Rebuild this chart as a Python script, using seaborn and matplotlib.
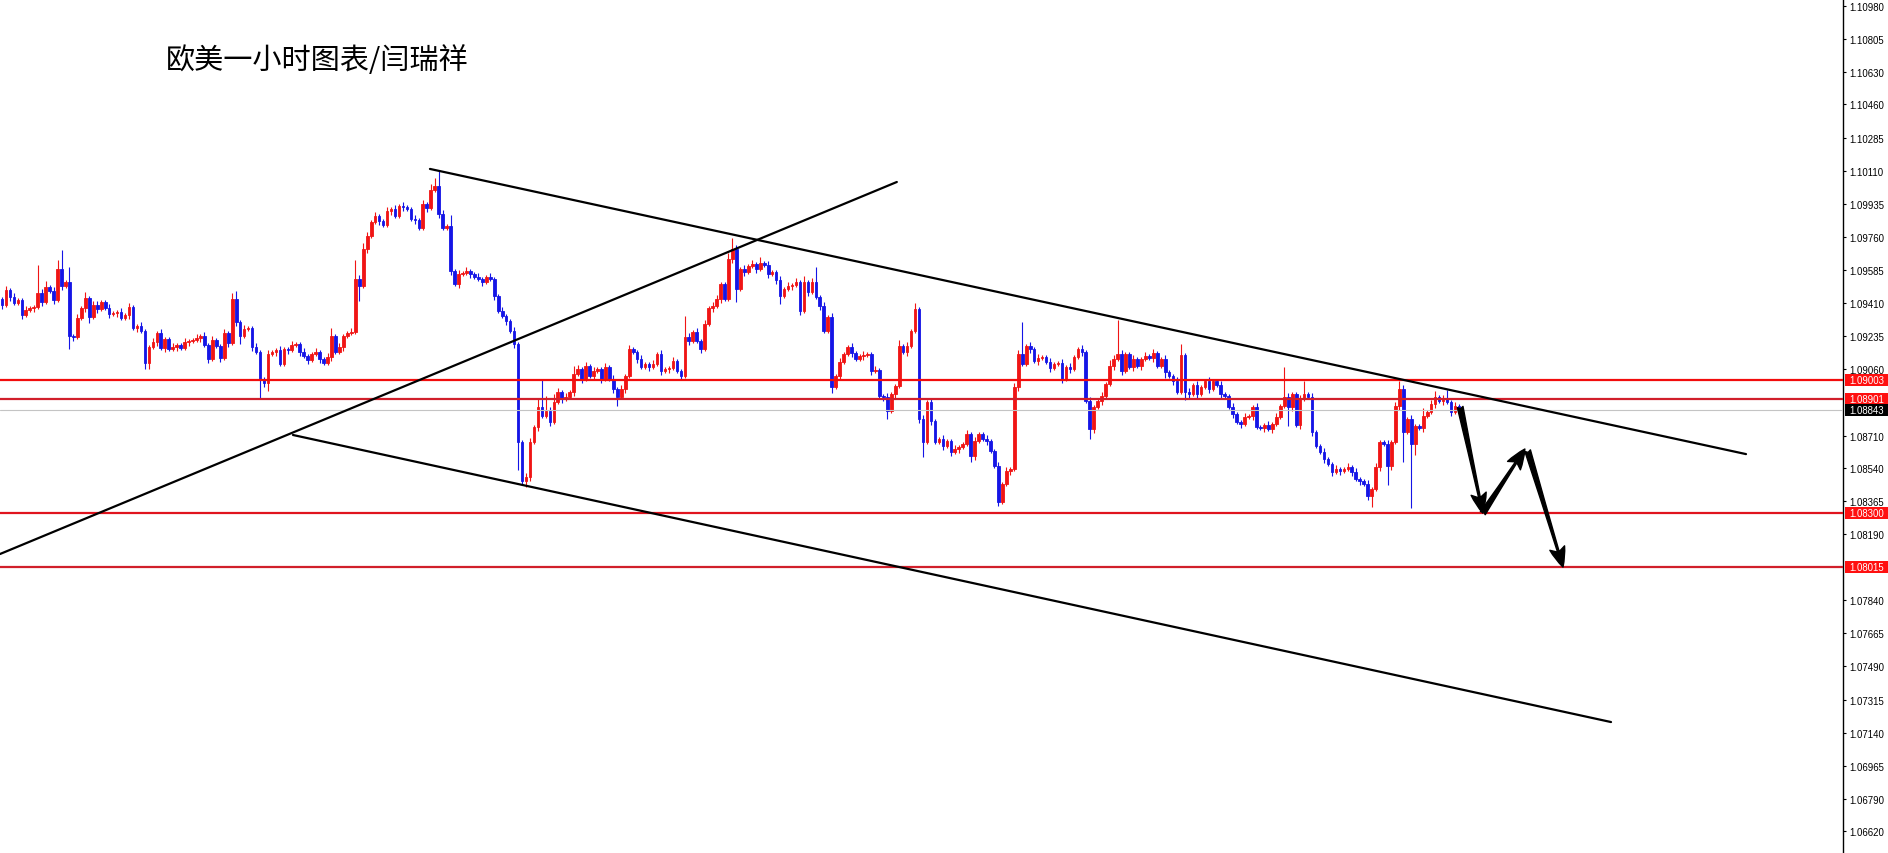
import numpy as np
import pandas as pd
import matplotlib
matplotlib.use("Agg")
import matplotlib.pyplot as plt
from matplotlib.patches import Rectangle
import seaborn as sns

# ---------------- data ----------------
title_text = "欧美一小时图表/闫瑞祥"

first_open = 1.09432
closes = [
    1.09400, 1.09479, 1.09442, 1.09410, 1.09426, 1.09347, 1.09373, 1.09384, 1.09389, 1.09463,
    1.09416, 1.09495, 1.09474, 1.09426, 1.09590, 1.09500, 1.09521, 1.09236, 1.09231, 1.09331,
    1.09384, 1.09437, 1.09336, 1.09400, 1.09379, 1.09416, 1.09384, 1.09352, 1.09358, 1.09363,
    1.09331, 1.09347, 1.09389, 1.09278, 1.09289, 1.09262, 1.09093, 1.09178, 1.09204, 1.09252,
    1.09173, 1.09220, 1.09167, 1.09178, 1.09188, 1.09173, 1.09204, 1.09210, 1.09215, 1.09225,
    1.09236, 1.09188, 1.09114, 1.09215, 1.09183, 1.09120, 1.09252, 1.09199, 1.09432, 1.09310,
    1.09236, 1.09273, 1.09278, 1.09178, 1.09151, 1.09009, 1.08988, 1.09141, 1.09151, 1.09162,
    1.09088, 1.09167, 1.09162, 1.09188, 1.09194, 1.09151, 1.09130, 1.09109, 1.09141, 1.09151,
    1.09114, 1.09093, 1.09125, 1.09236, 1.09151, 1.09178, 1.09236, 1.09252, 1.09257, 1.09537,
    1.09500, 1.09696, 1.09765, 1.09838, 1.09870, 1.09844, 1.09823, 1.09897, 1.09907, 1.09870,
    1.09923, 1.09918, 1.09907, 1.09854, 1.09849, 1.09807, 1.09934, 1.09912, 1.10008, 1.10029,
    1.09881, 1.09807, 1.09817, 1.09580, 1.09511, 1.09564, 1.09569, 1.09580, 1.09564, 1.09548,
    1.09537, 1.09521, 1.09548, 1.09537, 1.09447, 1.09368, 1.09342, 1.09315, 1.09262, 1.09194,
    1.08676, 1.08470, 1.08491, 1.08676, 1.08755, 1.08861, 1.08813, 1.08840, 1.08781, 1.08887,
    1.08940, 1.08903, 1.08914, 1.08940, 1.09035, 1.09062, 1.09009, 1.09077, 1.09025, 1.09051,
    1.09062, 1.09009, 1.09072, 1.09009, 1.08956, 1.08914, 1.08956, 1.09025, 1.09167, 1.09151,
    1.09114, 1.09072, 1.09088, 1.09072, 1.09088, 1.09141, 1.09051, 1.09062, 1.09067, 1.09104,
    1.09051, 1.09025, 1.09231, 1.09210, 1.09257, 1.09210, 1.09167, 1.09299, 1.09384, 1.09395,
    1.09432, 1.09511, 1.09432, 1.09643, 1.09696, 1.09484, 1.09590, 1.09574, 1.09606, 1.09617,
    1.09590, 1.09622, 1.09611, 1.09564, 1.09574, 1.09532, 1.09447, 1.09484, 1.09500, 1.09506,
    1.09521, 1.09368, 1.09521, 1.09469, 1.09521, 1.09442, 1.09395, 1.09262, 1.09336, 1.08966,
    1.09025, 1.09099, 1.09141, 1.09178, 1.09146, 1.09114, 1.09130, 1.09136, 1.09141, 1.09051,
    1.09056, 1.08919, 1.08914, 1.08840, 1.08929, 1.08972, 1.09183, 1.09151, 1.09183, 1.09262,
    1.09379, 1.08797, 1.08676, 1.08887, 1.08787, 1.08676, 1.08692, 1.08655, 1.08681, 1.08623,
    1.08639, 1.08649, 1.08665, 1.08718, 1.08602, 1.08681, 1.08718, 1.08692, 1.08681, 1.08628,
    1.08549, 1.08359, 1.08454, 1.08522, 1.08533, 1.08966, 1.09141, 1.09088, 1.09183, 1.09167,
    1.09104, 1.09120, 1.09125, 1.09099, 1.09067, 1.09088, 1.09093, 1.09009, 1.09072, 1.09062,
    1.09125, 1.09167, 1.09151, 1.08892, 1.08744, 1.08861, 1.08892, 1.08919, 1.08982, 1.09077,
    1.09114, 1.09141, 1.09051, 1.09141, 1.09072, 1.09114, 1.09077, 1.09114, 1.09130, 1.09120,
    1.09146, 1.09077, 1.09114, 1.09046, 1.09025, 1.08998, 1.08940, 1.09136, 1.08940, 1.08929,
    1.08977, 1.08929, 1.08966, 1.08998, 1.08956, 1.08998, 1.08977, 1.08929, 1.08919, 1.08861,
    1.08824, 1.08781, 1.08771, 1.08808, 1.08813, 1.08861, 1.08755, 1.08750, 1.08766, 1.08744,
    1.08771, 1.08808, 1.08866, 1.08914, 1.08861, 1.08929, 1.08766, 1.08903, 1.08929, 1.08914,
    1.08729, 1.08655, 1.08623, 1.08586, 1.08560, 1.08517, 1.08533, 1.08522, 1.08533, 1.08544,
    1.08517, 1.08480, 1.08470, 1.08454, 1.08390, 1.08427, 1.08544, 1.08676, 1.08665, 1.08549,
    1.08676, 1.08866, 1.08956, 1.08729, 1.08797, 1.08665, 1.08760, 1.08750, 1.08813, 1.08834,
    1.08877, 1.08914, 1.08892, 1.08903, 1.08887, 1.08834, 1.08866, 1.08843,
]

upper_wick_pips = [
    1, 2, 1, 2, 1, 1, 2, 1, 1, 15, 2, 3, 1, 2, 5, 10, 1, 8, 1, 2,
    1, 3, 1, 2, 2, 1, 1, 2, 1, 1, 2, 1, 2, 1, 1, 2, 1, 1, 2, 1,
    2, 1, 1, 2, 1, 1, 2, 1, 1, 2, 1, 2, 1, 2, 1, 1, 2, 1, 3, 4,
    1, 2, 1, 1, 2, 1, 1, 2, 1, 1, 2, 1, 1, 2, 1, 1, 2, 1, 1, 2,
    1, 1, 2, 4, 1, 2, 1, 1, 2, 10, 2, 3, 2, 1, 2, 1, 1, 2, 1, 2,
    1, 2, 1, 1, 2, 1, 2, 1, 3, 4, 8, 2, 1, 6, 1, 2, 1, 2, 1, 1,
    2, 1, 1, 2, 1, 1, 2, 1, 1, 2, 1, 1, 2, 2, 1, 5, 14, 8, 2, 4,
    2, 1, 2, 1, 4, 2, 1, 2, 1, 2, 1, 1, 2, 1, 2, 1, 2, 1, 2, 1,
    1, 2, 1, 1, 2, 1, 2, 1, 1, 2, 1, 1, 11, 2, 1, 2, 1, 2, 1, 2,
    2, 1, 1, 3, 6, 2, 1, 2, 1, 2, 1, 3, 1, 2, 1, 1, 2, 1, 2, 1,
    2, 1, 3, 1, 2, 8, 1, 2, 1, 2, 1, 2, 1, 1, 2, 1, 1, 2, 1, 1,
    2, 1, 1, 2, 1, 1, 3, 1, 2, 1, 3, 1, 2, 1, 2, 1, 1, 2, 1, 1,
    2, 1, 1, 2, 1, 2, 1, 1, 2, 1, 1, 2, 1, 2, 1, 2, 2, 17, 1, 2,
    1, 2, 1, 1, 2, 1, 1, 2, 1, 2, 1, 1, 2, 1, 2, 1, 1, 2, 1, 3,
    2, 18, 2, 1, 1, 2, 1, 1, 2, 1, 2, 1, 1, 2, 1, 1, 2, 6, 1, 2,
    1, 2, 1, 1, 2, 1, 1, 2, 1, 1, 2, 1, 1, 2, 1, 1, 2, 1, 1, 2,
    1, 2, 1, 16, 2, 1, 1, 2, 7, 1, 2, 1, 1, 2, 1, 1, 2, 1, 1, 2,
    1, 2, 1, 1, 2, 1, 2, 1, 1, 2, 1, 2, 4, 2, 1, 2, 1, 1, 4, 1,
    2, 3, 1, 2, 5, 1, 2, 1,
]

lower_wick_pips = [
    2, 1, 2, 1, 1, 2, 1, 1, 2, 1, 2, 1, 1, 2, 1, 2, 1, 7, 2, 1,
    1, 2, 3, 1, 2, 1, 1, 2, 1, 2, 1, 1, 2, 1, 2, 1, 3, 3, 1, 2,
    1, 2, 1, 1, 2, 1, 1, 2, 1, 1, 2, 1, 2, 1, 1, 2, 1, 2, 1, 2,
    4, 1, 1, 2, 1, 10, 2, 4, 1, 2, 1, 1, 2, 1, 1, 2, 1, 2, 1, 1,
    2, 1, 1, 2, 1, 1, 2, 1, 1, 1, 8, 1, 2, 1, 1, 2, 1, 1, 2, 1,
    1, 2, 1, 1, 2, 1, 1, 2, 1, 1, 2, 1, 1, 2, 1, 2, 1, 1, 2, 1,
    1, 2, 1, 1, 2, 1, 1, 2, 1, 2, 15, 2, 3, 2, 1, 2, 1, 1, 2, 1,
    1, 2, 1, 1, 2, 1, 2, 1, 1, 2, 1, 2, 1, 1, 2, 5, 1, 2, 1, 1,
    2, 1, 1, 2, 1, 1, 2, 1, 2, 1, 1, 2, 1, 2, 1, 1, 2, 1, 1, 2,
    1, 2, 1, 1, 2, 7, 1, 2, 1, 1, 2, 1, 1, 2, 1, 2, 4, 1, 1, 2,
    1, 2, 1, 2, 1, 1, 2, 1, 1, 3, 1, 2, 1, 1, 2, 1, 1, 2, 1, 2,
    1, 1, 2, 4, 1, 2, 1, 1, 2, 1, 1, 2, 8, 1, 2, 1, 1, 2, 1, 2,
    1, 2, 1, 1, 3, 2, 1, 1, 2, 1, 1, 2, 1, 1, 2, 1, 2, 1, 1, 2,
    1, 2, 1, 1, 2, 1, 1, 2, 1, 2, 1, 1, 2, 1, 5, 2, 1, 2, 1, 1,
    2, 1, 2, 1, 1, 2, 1, 2, 1, 1, 2, 1, 1, 3, 1, 2, 1, 1, 4, 2,
    1, 2, 1, 1, 2, 1, 1, 2, 1, 1, 2, 1, 2, 1, 1, 2, 1, 1, 2, 1,
    2, 1, 1, 1, 10, 2, 1, 2, 1, 1, 2, 1, 1, 2, 1, 2, 1, 2, 1, 1,
    2, 1, 2, 1, 2, 6, 1, 2, 1, 10, 2, 1, 2, 16, 1, 34, 6, 1, 2, 1,
    1, 2, 1, 2, 1, 2, 1, 1,
]

y_tick_values = [1.10980, 1.10805, 1.10630, 1.10460, 1.10285, 1.10110, 1.09935,
                 1.09760, 1.09585, 1.09410, 1.09235, 1.09060, 1.08710, 1.08540,
                 1.08365, 1.08190, 1.07840, 1.07665, 1.07490, 1.07315, 1.07140,
                 1.06965, 1.06790, 1.06620]
y_tick_labels = ["1.10980", "1.10805", "1.10630", "1.10460", "1.10285", "1.10110",
                 "1.09935", "1.09760", "1.09585", "1.09410", "1.09235", "1.09060",
                 "1.08710", "1.08540", "1.08365", "1.08190", "1.07840", "1.07665",
                 "1.07490", "1.07315", "1.07140", "1.06965", "1.06790", "1.06620"]

level_prices = [1.09003, 1.08901, 1.08300, 1.08015]
level_labels = ["1.09003", "1.08901", "1.08300", "1.08015"]
level_colors = ["#f20d0d", "#d11f2b", "#e0141e", "#d11f2b"]
current_price = 1.08843
current_label = "1.08843"

trend_x = [[107.8, 439.3], [73.3, 405.3], [-0.5, 225.4]]
trend_y = [[1.10119, 1.08612], [1.08713, 1.07196], [1.08084, 1.10050]]

arrow_x = [[367.3, 373.0], [373.0, 383.6], [384.3, 393.2]]
arrow_y = [[1.08861, 1.08300], [1.08300, 1.08639], [1.08630, 1.08015]]

# ---------------- build frame ----------------
opens = [first_open] + closes[:-1]
df = pd.DataFrame({"open": opens, "close": closes,
                   "up": upper_wick_pips, "dn": lower_wick_pips})
df["idx"] = np.arange(len(df))
df["high"] = df[["open", "close"]].max(axis=1) + df["up"] * 0.0001
df["low"] = df[["open", "close"]].min(axis=1) - df["dn"] * 0.0001
bull_color, bear_color = "#f01515", "#1515e6"
df["color"] = np.where(df["close"] >= df["open"], bull_color, bear_color)

# ---------------- figure ----------------
sns.set_theme(style="white")
plt.rcParams["font.family"] = ["Noto Sans CJK SC", "DejaVu Sans"]

W, H = 1888, 854
fig = plt.figure(figsize=(W / 100, H / 100), dpi=100)
fig.patch.set_facecolor("white")
ax_w_px = 1843
ax = fig.add_axes([0, 0, ax_w_px / W, 1])
ax.set_facecolor("white")
ymin, ymax = 1.06504, 1.11017
ax.set_xlim(-0.5, -0.5 + ax_w_px / 3.97)
ax.set_ylim(ymin, ymax)

# candles
ax.vlines(df["idx"], df["low"], df["high"], colors=df["color"], linewidth=0.8, zorder=2)
ax.bar(df["idx"], df["close"] - df["open"], bottom=df["open"], width=0.66,
       color=df["color"], edgecolor=df["color"], linewidth=0.6, zorder=3)

# horizontal levels
ax.axhline(current_price, color="#c4c4c4", linewidth=0.8, zorder=4)
for p, c in zip(level_prices, level_colors):
    ax.axhline(p, color=c, linewidth=1.6, zorder=4)

# trend lines
for tx, ty in zip(trend_x, trend_y):
    sns.lineplot(x=tx, y=ty, color="black", linewidth=1.6, ax=ax, zorder=5)

# arrows
for ax_, ay_ in zip(arrow_x, arrow_y):
    ax.annotate("", xy=(ax_[1], ay_[1]), xytext=(ax_[0], ay_[0]),
                arrowprops=dict(arrowstyle="fancy,head_length=1.1,head_width=0.85,tail_width=0.32",
                                color="black", shrinkA=0, shrinkB=0, mutation_scale=13),
                zorder=6)

# axis styling
ax.yaxis.tick_right()
ax.set_yticks(y_tick_values)
ax.set_yticklabels(y_tick_labels, fontsize=6.9, fontfamily="Liberation Sans", color="black")
ax.tick_params(axis="y", which="major", direction="out", length=2.5, width=0.8,
               color="black", pad=2, right=True, left=False, labelright=True, labelleft=False)
ax.set_xticks([])
ax.set_xlabel("")
ax.set_ylabel("")
for s in ["left", "top", "bottom"]:
    ax.spines[s].set_visible(False)
ax.spines["right"].set_visible(True)
ax.spines["right"].set_color("black")
ax.spines["right"].set_linewidth(1.0)
ax.grid(False)

# price boxes on the axis
trans = ax.get_yaxis_transform()
px_per_unit = H / (ymax - ymin)
box_h = 12 / px_per_unit
box_x0 = 1.0 + 2 / ax_w_px
box_w = 44 / ax_w_px
for p, lab, c in list(zip(level_prices, level_labels, ["#ff1010"] * 4)) + [(current_price, current_label, "black")]:
    ax.add_patch(Rectangle((box_x0, p - box_h / 2), box_w, box_h, transform=trans,
                           facecolor=c, edgecolor="none", clip_on=False, zorder=7))
    ax.text(box_x0 + 4 / ax_w_px, p, lab, transform=trans, ha="left", va="center",
            fontsize=6.9, fontfamily="Liberation Sans", color="white", clip_on=False, zorder=8)

# title
fig.text(166 / W, 1 - 61 / H, title_text, fontsize=21, ha="left", va="center",
         color="black", family=["Noto Sans CJK SC", "DejaVu Sans"])

fig.savefig("out.png", dpi=100, facecolor="white")
